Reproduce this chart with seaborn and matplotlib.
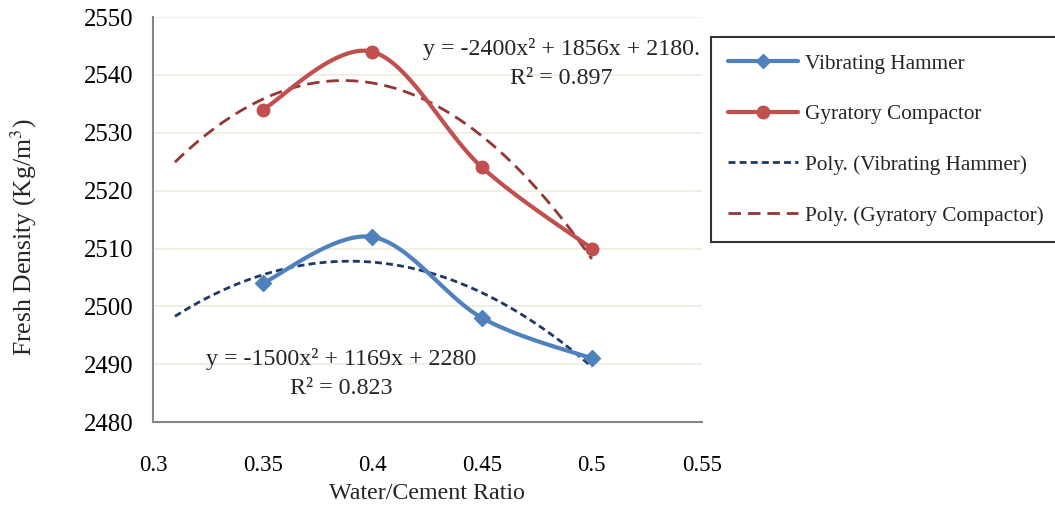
import numpy as np
import pandas as pd
import matplotlib
matplotlib.use("Agg")
import matplotlib.pyplot as plt
from matplotlib.lines import Line2D
import seaborn as sns

# ---- data ----
wc_ratio = [0.35, 0.40, 0.45, 0.50]
vibrating_hammer = [2504, 2512, 2498, 2491]
gyratory_compactor = [2534, 2544, 2524, 2510]
series_names = ["Vibrating Hammer", "Gyratory Compactor"]
trend_start = 0.31
eq_vh = "y = -1500x² + 1169x + 2280\nR² = 0.823"
eq_gc = "y = -2400x² + 1856x + 2180.\nR² = 0.897"
x_ticks = [0.3, 0.35, 0.4, 0.45, 0.5, 0.55]
y_ticks = [2480, 2490, 2500, 2510, 2520, 2530, 2540, 2550]

sns.set_style("white")
plt.rcParams['font.family'] = ['Liberation Serif', 'DejaVu Serif']
plt.rcParams['mathtext.fontset'] = 'stix'


def smooth(xs, ys, n=40):
    """Excel-style smoothed line (Catmull-Rom as cubic Bezier)."""
    P = np.column_stack([xs, ys]).astype(float)
    ext = np.vstack([P[0], P, P[-1]])
    out = []
    for i in range(1, len(ext) - 2):
        p0, p1, p2, p3 = ext[i - 1], ext[i], ext[i + 1], ext[i + 2]
        c1 = p1 + (p2 - p0) / 6
        c2 = p2 - (p3 - p1) / 6
        t = np.linspace(0, 1, n)[:, None]
        seg = ((1 - t) ** 3) * p1 + 3 * ((1 - t) ** 2) * t * c1 + 3 * (1 - t) * t ** 2 * c2 + t ** 3 * p2
        out.append(seg if i == 1 else seg[1:])
    s = np.vstack(out)
    return s[:, 0], s[:, 1]


fig = plt.figure(figsize=(10.55, 5.08), dpi=100)
ax = fig.add_axes([0.145, 0.169, 0.52, 0.7975])

blue = "#4F81BD"
red = "#C0504D"
dblue = "#1F3864"
dred = "#943634"

# trendlines
xt = np.linspace(trend_start, wc_ratio[-1], 200)
for ys, col, dash in [(vibrating_hammer, dblue, (2.5, 1.5)), (gyratory_compactor, dred, (4.5, 2.5))]:
    c = np.polyfit(wc_ratio, ys, 2)
    ax.plot(xt, np.polyval(c, xt), color=col, lw=2.0, dashes=dash, zorder=2)

# smoothed series
for ys, col, mk, ms in [(vibrating_hammer, blue, "D", 8), (gyratory_compactor, red, "o", 9)]:
    sx, sy = smooth(wc_ratio, ys)
    sns.lineplot(x=sx, y=sy, ax=ax, color=col, lw=3.0, sort=False, zorder=3)
    ax.plot(wc_ratio, ys, ls="none", marker=mk, ms=ms, color=col, zorder=4)

ax.set_xlim(0.3, 0.55)
ax.set_ylim(2480, 2550)
ax.set_xticks(x_ticks)
ax.set_xticklabels([f"{v:g}" for v in x_ticks])
ax.set_yticks(y_ticks)
ax.yaxis.grid(True, color="#EEECE1", lw=1.2)
ax.set_axisbelow(True)
for s in ["top", "right"]:
    ax.spines[s].set_visible(False)
for s in ["left", "bottom"]:
    ax.spines[s].set_color("#868686")
    ax.spines[s].set_linewidth(1.5)
ax.tick_params(axis="both", direction="out", length=6, width=1.5, color="#868686",
               labelsize=16.5, labelcolor="black", pad=8)
ax.tick_params(axis="y", labelsize=17.8, pad=8)
ax.tick_params(axis="x", pad=18)

ax.set_xlabel("Water/Cement Ratio", fontsize=17.3, labelpad=5)
ax.set_ylabel("Fresh Density (Kg/m$^3$)", fontsize=18.5)
ax.yaxis.set_label_coords(-0.207, 0.457)

ax.text(0.3856, 2488.4, eq_vh, ha="center", va="center", fontsize=17.3, linespacing=1.5)
ax.text(0.4862, 2542.0, eq_gc, ha="center", va="center", fontsize=17.3, linespacing=1.5)

handles = [
    Line2D([], [], color=blue, lw=3, marker="D", ms=7),
    Line2D([], [], color=red, lw=3, marker="o", ms=9),
    Line2D([], [], color=dblue, lw=2, dashes=(2.5, 1.5)),
    Line2D([], [], color=dred, lw=2, dashes=(4.5, 2.5)),
]
labels = series_names + [f"Poly. ({n})" for n in series_names]
leg = fig.legend(handles, labels, loc="upper left", bbox_to_anchor=(0.674, 0.927),
                 fontsize=15.3, frameon=True, fancybox=False, edgecolor="black",
                 handlelength=3.3, labelspacing=1.45, borderpad=0.78, handletextpad=0.35,
                 borderaxespad=0)
leg.get_frame().set_linewidth(1.5)

fig.savefig("out.png", dpi=100)
